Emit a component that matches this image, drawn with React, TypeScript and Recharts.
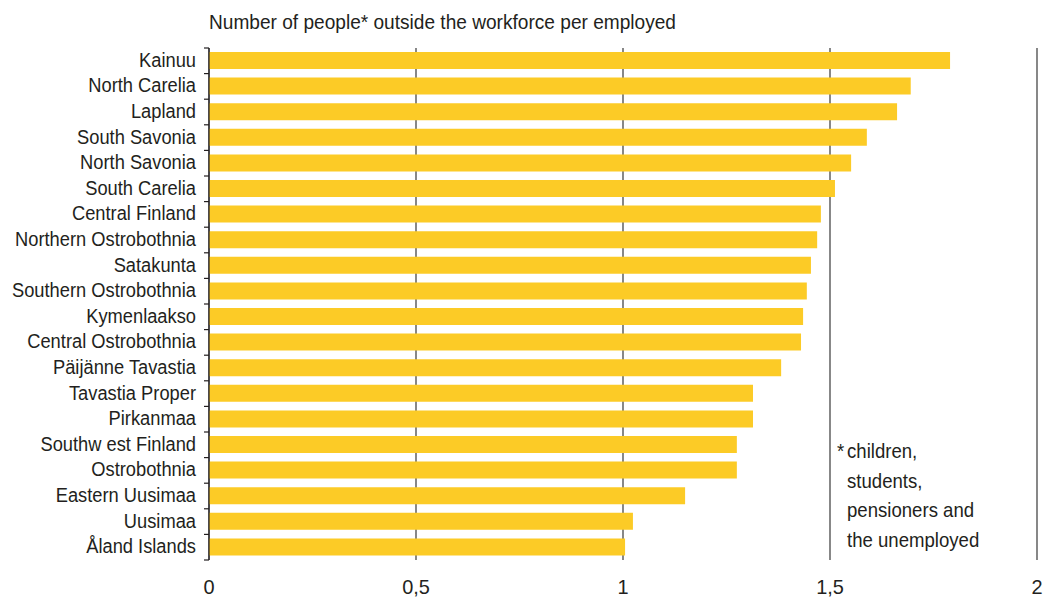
import { BarChart, Bar, XAxis, YAxis, CartesianGrid } from 'recharts';

const regions = [
  'Kainuu',
  'North Carelia',
  'Lapland',
  'South Savonia',
  'North Savonia',
  'South Carelia',
  'Central Finland',
  'Northern Ostrobothnia',
  'Satakunta',
  'Southern Ostrobothnia',
  'Kymenlaakso',
  'Central Ostrobothnia',
  'Päijänne Tavastia',
  'Tavastia Proper',
  'Pirkanmaa',
  'Southw est Finland',
  'Ostrobothnia',
  'Eastern Uusimaa',
  'Uusimaa',
  'Åland Islands',
];
const peoplePerEmployed = [
  1.79, 1.695, 1.662, 1.589, 1.551, 1.512, 1.478, 1.469, 1.454, 1.444,
  1.435, 1.43, 1.382, 1.314, 1.314, 1.275, 1.275, 1.15, 1.024, 1.005,
];
const xTicks = [0, 0.5, 1, 1.5, 2];
const title = 'Number of people* outside the workforce per employed';
const footnote = ['children,', 'students,', 'pensioners and', 'the unemployed'];

const data = regions.map((region, i) => ({ region, value: peoplePerEmployed[i] }));

const W = 1046;
const H = 601;
const TOP = 48;
const XAXIS_H = 41;
const YAXIS_W = 209;
const RIGHT = 9;
const INK = '#231f20';
const FONT = "'Liberation Sans', Arial, sans-serif";
const band = (H - TOP - XAXIS_H) / regions.length;

// no condensed face installed, so squeeze Liberation Sans horizontally
const NarrowText = ({ x, y, size, sx, anchor = 'start', children }: any) => (
  <g transform={`translate(${x},${y}) scale(${sx},1)`}>
    <text x={0} y={0} textAnchor={anchor} fontSize={size} fill={INK} fontFamily={FONT}>
      {children}
    </text>
  </g>
);

// category ticks sit on the band boundaries, not the centres
const RegionTick = (props: any) => {
  const { x, y, payload, index } = props;
  const top = y - band / 2;
  return (
    <g>
      <line x1={x - 5} x2={x} y1={top} y2={top} stroke={INK} strokeWidth={1.2} />
      {index === regions.length - 1 && (
        <line x1={x - 5} x2={x} y1={y + band / 2} y2={y + band / 2} stroke={INK} strokeWidth={1.2} />
      )}
      <NarrowText x={x - 13} y={y + 6} size={20} sx={0.915} anchor="end">
        {payload.value}
      </NarrowText>
    </g>
  );
};

const ValueTick = (props: any) => {
  const { x, y, payload } = props;
  return (
    <NarrowText x={x} y={y + 34} size={21} sx={0.95} anchor="middle">
      {String(payload.value).replace('.', ',')}
    </NarrowText>
  );
};

export default function App() {
  return (
    <div style={{ position: 'absolute', left: 0, top: 0, width: W, height: H, background: '#fff' }}>
      <BarChart
        width={W}
        height={H}
        data={data}
        layout="vertical"
        margin={{ top: TOP, right: RIGHT, bottom: 0, left: 0 }}
      >
        <CartesianGrid horizontal={false} stroke="#555" strokeWidth={1.4} />
        <XAxis
          type="number"
          domain={[0, 2]}
          ticks={xTicks}
          height={XAXIS_H}
          axisLine={false}
          tickLine={false}
          tickSize={0}
          tickMargin={0}
          tick={<ValueTick />}
        />
        <YAxis
          type="category"
          dataKey="region"
          width={YAXIS_W}
          interval={0}
          axisLine={{ stroke: INK, strokeWidth: 1.2 }}
          tickLine={false}
          tickSize={0}
          tickMargin={0}
          tick={<RegionTick />}
        />
        <Bar dataKey="value" fill="#fccb26" barSize={17} isAnimationActive={false} />
      </BarChart>
      <svg width={W} height={H} style={{ position: 'absolute', left: 0, top: 0, pointerEvents: 'none' }}>
        <NarrowText x={209} y={29} size={20} sx={0.955}>{title}</NarrowText>
        <NarrowText x={837} y={458} size={20} sx={0.93}>*</NarrowText>
        {footnote.map((line, i) => (
          <NarrowText key={line} x={847} y={458 + i * 29.6} size={20} sx={0.93}>
            {line}
          </NarrowText>
        ))}
      </svg>
    </div>
  );
}
